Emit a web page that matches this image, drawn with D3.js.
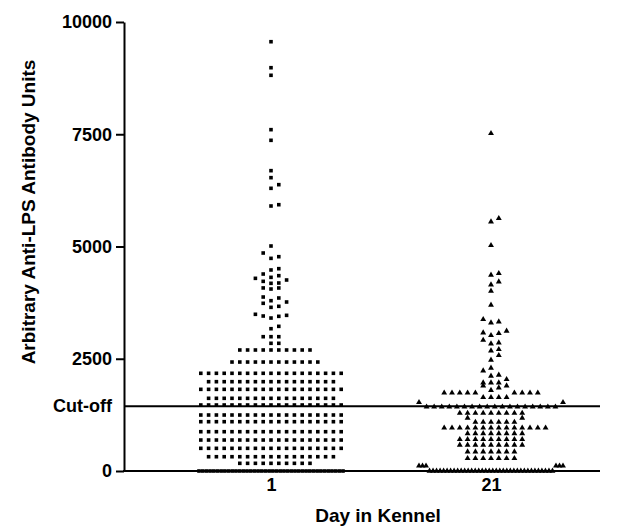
<!DOCTYPE html>
<html>
<head>
<meta charset="utf-8">
<script src="https://cdn.jsdelivr.net/npm/d3@7"></script>
<style>
  body { margin: 0; background: #fff; }
  text { font-family: "Liberation Sans", Arial, sans-serif; font-weight: bold; fill: #000; }
</style>
</head>
<body>
<svg id="chart" width="630" height="527"></svg>
<script>
// categories and axis ticks
var categories = ["1", "21"];
var yTicks = [0, 2500, 5000, 7500, 10000];
var cutOff = 1440;

// antibody values, as [value, number of dogs at that value]
var day1 = [
  [0, 40], [171, 10], [318, 17], [505, 19], [690, 19], [875, 19], [1098, 19], [1247, 19],
  [1470, 19], [1619, 17], [1819, 19], [1989, 17], [2176, 19], [2427, 12], [2695, 10],
  [2844, 2], [2991, 3],
  [3169, 1], [3222, 1], [3407, 1], [3445, 1], [3452, 1], [3467, 1], [3490, 1],
  [3645, 1], [3668, 1], [3735, 1], [3764, 1], [3793, 1], [3853, 1], [3875, 1],
  [4053, 1], [4076, 1], [4077, 1], [4180, 1], [4187, 1], [4224, 1], [4254, 1],
  [4291, 1], [4313, 1], [4350, 1], [4387, 1], [4477, 1], [4506, 1], [4736, 1],
  [4773, 1], [4855, 1], [5011, 1], [5902, 1], [5931, 1], [6296, 1], [6377, 1],
  [6533, 1], [6689, 1], [7365, 1], [7602, 1], [8813, 1], [8982, 1], [9561, 1]
];
var day21 = [
  [0, 36], [115, 6], [283, 7], [430, 7], [579, 9], [706, 9], [835, 8], [960, 14],
  [1090, 6], [1180, 2], [1290, 9], [1430, 18], [1530, 2], [1640, 4], [1740, 9], [1800, 1],
  [1855, 1], [1900, 2], [1966, 3], [2042, 1], [2116, 1], [2138, 1], [2234, 1], [2294, 1],
  [2472, 1], [2577, 1], [2679, 1], [2710, 1], [2835, 1], [2857, 1], [2917, 1], [3022, 1],
  [3066, 1], [3080, 1], [3118, 1], [3303, 1], [3325, 1], [3378, 1], [3697, 1], [4009, 1],
  [4149, 1], [4216, 1], [4365, 1], [4402, 1], [5026, 1], [5552, 1], [5627, 1], [7520, 1]
];

var svg = d3.select("#chart");
var plotLeft = 124, plotRight = 600, plotTop = 22, plotBottom = 471;

var y = d3.scaleLinear().domain([0, 10000]).range([plotBottom, plotTop]);
var x = d3.scalePoint().domain(categories).range([271, 491]);

var step = 7.8, halfWidth = 72, binPx = 5.5;

// Prism style scatter: bin close values into rows, spread each row sideways
function spread(rows) {
  var vals = [];
  rows.forEach(function(r) { for (var i = 0; i < r[1]; i++) vals.push(r[0]); });
  vals.sort(function(a, b) { return a - b; });
  var bins = [], cur = null;
  vals.forEach(function(v) {
    if (!cur || y(cur.start) - y(v) > binPx) { cur = { start: v, vals: [] }; bins.push(cur); }
    cur.vals.push(v);
  });
  var pts = [];
  bins.forEach(function(b) {
    var n = b.vals.length;
    var maxK = Math.ceil((n - 1) / 2);
    if (maxK * step <= halfWidth) {
      b.vals.forEach(function(v, i) {
        var k = i === 0 ? 0 : (i % 2 ? (i + 1) / 2 : -i / 2);
        pts.push({ v: v, dx: k * step });
      });
    } else {
      // too many for one row: squeeze them together
      var s = 2 * halfWidth / (n - 1);
      var pos = d3.range(n).map(function(j) { return (j - (n - 1) / 2) * s; });
      pos.sort(function(a, b) { return Math.abs(a) - Math.abs(b); });
      b.vals.forEach(function(v, i) { pts.push({ v: v, dx: pos[i] }); });
    }
  });
  return pts;
}

// y axis
var yAxis = svg.append("g")
  .attr("transform", "translate(" + plotLeft + ",0)")
  .call(d3.axisLeft(y).tickValues(yTicks).tickFormat(d3.format("d"))
    .tickSize(8).tickPadding(4).tickSizeOuter(0));
yAxis.selectAll("path, line").attr("stroke", "#000").attr("stroke-width", 2);
yAxis.selectAll("text").style("font-size", "18px");

// x axis
var xAxis = svg.append("g")
  .attr("transform", "translate(0," + plotBottom + ")")
  .call(d3.axisBottom(x).tickSize(0).tickPadding(7));
xAxis.select(".domain").remove();
xAxis.selectAll("text").style("font-size", "18px");
svg.append("line")
  .attr("x1", plotLeft - 1).attr("x2", plotRight)
  .attr("y1", plotBottom).attr("y2", plotBottom)
  .attr("stroke", "#000").attr("stroke-width", 2);

// cut-off line and label
svg.append("line")
  .attr("x1", plotLeft).attr("x2", plotRight)
  .attr("y1", y(cutOff)).attr("y2", y(cutOff))
  .attr("stroke", "#000").attr("stroke-width", 2);
svg.append("text")
  .attr("x", plotLeft - 12).attr("y", y(cutOff)).attr("dy", "0.32em")
  .attr("text-anchor", "end")
  .style("font-size", "18px")
  .text("Cut-off");

// points
var groups = [
  { cat: "1", rows: day1, shape: d3.symbolSquare, size: 13 },
  { cat: "21", rows: day21, shape: d3.symbolTriangle, size: 15 }
];
groups.forEach(function(g) {
  svg.append("g").selectAll("path")
    .data(spread(g.rows))
    .enter().append("path")
    .attr("d", d3.symbol().type(g.shape).size(g.size))
    .attr("transform", function(d) { return "translate(" + (x(g.cat) + d.dx) + "," + y(d.v) + ")"; })
    .attr("fill", "#000");
});

// axis titles
svg.append("text")
  .attr("transform", "translate(35,212) rotate(-90)")
  .attr("text-anchor", "middle")
  .style("font-size", "19px")
  .text("Arbitrary Anti-LPS Antibody Units");
svg.append("text")
  .attr("x", 378).attr("y", 522)
  .attr("text-anchor", "middle")
  .style("font-size", "19px")
  .text("Day in Kennel");
</script>
</body>
</html>
